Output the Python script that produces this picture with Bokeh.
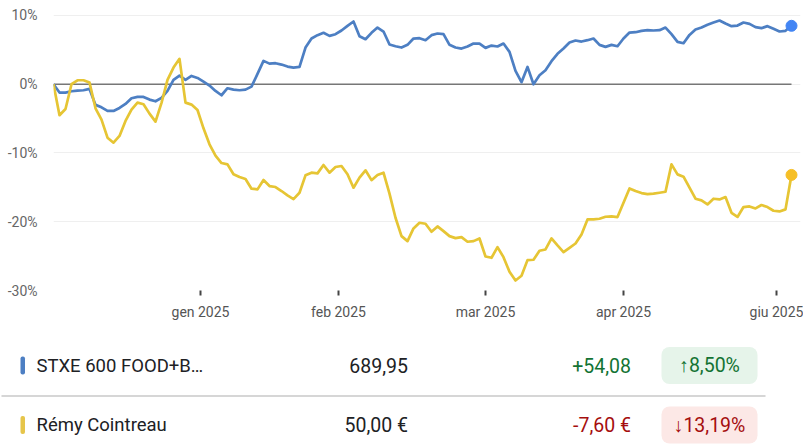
from bokeh.plotting import figure
from bokeh.models import Range1d, FixedTicker, ColumnDataSource
from bokeh.layouts import column
from bokeh.core.properties import value
from bokeh.embed import file_html
from bokeh.resources import INLINE

# ---- data (percent change since start, one value per session) ----
stoxx_food = [0, -1.21, -1.21, -1.02, -0.92, -0.87, -0.68, -3.0, -3.35, -3.88,
              -3.88, -3.45, -2.86, -2.04, -1.84, -1.84, -2.23, -2.48, -1.99, -0.97,
              0.63, 1.26, 0.63, 1.21, 0.92, 0.39, -0.19, -0.97, -1.6, -0.58,
              -0.78, -0.87, -0.78, -0.34, 1.5, 3.4, 3.0, 3.06, 2.86, 2.57,
              2.43, 2.52, 5.34, 6.65, 7.14, 7.48, 7.04, 7.28, 7.82, 8.5,
              9.13, 6.99, 6.55, 7.48, 8.25, 7.67, 5.78, 5.53, 5.34, 5.73,
              6.65, 6.7, 6.41, 7.14, 7.38, 7.28, 5.73, 5.34, 5.19, 5.49,
              5.92, 5.92, 5.29, 5.63, 5.49, 5.92, 4.71, 1.94, 0.3, 2.52,
              0.0, 1.31, 2.04, 3.35, 4.42, 5.19, 6.07, 6.36, 6.21, 6.41,
              6.65, 5.73, 5.44, 5.73, 5.53, 6.65, 7.52, 7.57, 7.77, 7.86,
              7.82, 7.86, 8.25, 7.28, 6.17, 5.97, 7.18, 7.96, 8.25, 8.64,
              8.98, 9.27, 8.83, 8.45, 8.54, 8.98, 8.79, 8.3, 8.16, 8.45,
              8.06, 7.67, 7.77, 8.5]

remy = [0, -4.5, -3.6, 0.0, 0.58, 0.58, 0.24, -3.5, -5.15, -7.77,
        -8.5, -7.52, -5.34, -3.69, -2.67, -2.91, -4.27, -5.44, -2.7, 0.63,
        2.43, 3.7, -2.67, -2.96, -3.74, -6.41, -8.74, -10.39, -11.46, -11.65,
        -13.1, -13.5, -13.79, -15.19, -15.29, -13.93, -14.81, -14.95, -15.53, -16.17,
        -16.7, -15.78, -13.25, -12.86, -12.96, -11.75, -12.86, -12.04, -11.89, -13.1,
        -15.05, -13.59, -12.52, -13.95, -13.2, -12.86, -15.9, -19.42, -22.09, -22.82,
        -20.97, -20.15, -20.29, -21.46, -20.68, -21.36, -22.09, -22.38, -22.23, -22.91,
        -22.82, -22.43, -25.05, -25.24, -23.69, -25.15, -27.28, -28.54, -27.86, -25.58,
        -25.53, -24.22, -24.03, -22.43, -23.45, -24.42, -23.79, -23.16, -21.84, -19.66,
        -19.66, -19.56, -19.27, -19.22, -19.32, -17.23, -15.15, -15.53, -15.83, -15.97,
        -15.92, -15.78, -15.63, -11.65, -13.11, -13.45, -15.05, -16.65, -16.89, -17.48,
        -16.65, -16.75, -16.41, -18.7, -19.3, -17.86, -17.77, -18.06, -17.57, -17.86,
        -18.4, -18.5, -18.2, -13.19]

sessions = list(range(len(stoxx_food)))

x_tick_pos = [24.5, 47.5, 72.0, 95.0, 120.5]
x_tick_labels = ["gen 2025", "feb 2025", "mar 2025", "apr 2025", "giu 2025"]
y_tick_pos = [-30, -20, -10, 0, 10]
y_tick_labels = ["-30%", "-20%", "-10%", "0%", "10%"]

names = ["STXE 600 FOOD+B\u2026", "R\u00e9my Cointreau"]
prices = ["689,95", "50,00 \u20ac"]
changes = ["+54,08", "-7,60 \u20ac"]
pct_changes = ["\u21918,50%", "\u219313,19%"]

BLUE_LINE, BLUE_DOT = "#4d7fc3", "#4285f4"
YEL_LINE, YEL_DOT = "#e6c534", "#f6bf26"
FONT = "Roboto"

# ---- chart ----
p = figure(width=803, height=330, output_backend="svg", toolbar_location=None,
           x_range=Range1d(0, 124.5), y_range=Range1d(-30, 10.727),
           min_border_left=53, min_border_right=3, min_border_top=10,
           min_border_bottom=40)
p.outline_line_color = None
p.background_fill_color = "white"
p.border_fill_color = "white"

p.xaxis.ticker = FixedTicker(ticks=x_tick_pos)
p.xaxis.major_label_overrides = dict(zip(x_tick_pos, x_tick_labels))
p.xaxis.axis_line_color = None
p.xaxis.major_tick_in = 0
p.xaxis.major_tick_out = 5
p.xaxis.major_tick_line_color = "#444444"
p.xaxis.major_tick_line_width = 2
p.xaxis.minor_tick_line_color = None
p.xaxis.major_label_standoff = 8
p.xaxis.major_label_text_font = FONT
p.xaxis.major_label_text_font_size = "14px"
p.xaxis.major_label_text_color = "#555555"

p.yaxis.ticker = FixedTicker(ticks=y_tick_pos)
p.yaxis.major_label_overrides = dict(zip(y_tick_pos, y_tick_labels))
p.yaxis.axis_line_color = None
p.yaxis.major_tick_line_color = None
p.yaxis.minor_tick_line_color = None
p.yaxis.major_label_standoff = 10
p.yaxis.major_label_text_font = FONT
p.yaxis.major_label_text_font_size = "14px"
p.yaxis.major_label_text_color = "#666666"

p.xgrid.visible = False
p.ygrid.grid_line_color = "#efefef"

p.line([sessions[0], sessions[-1]], [0, 0], line_color="#777777", line_width=1.5)
p.line(sessions, stoxx_food, line_color=BLUE_LINE, line_width=2.7, line_join="round")
p.line(sessions, remy, line_color=YEL_LINE, line_width=2.7, line_join="round")
p.scatter([sessions[-1]], [stoxx_food[-1]], size=11, color=BLUE_DOT)
p.scatter([sessions[-1]], [remy[-1]], size=11, color=YEL_DOT)

# ---- table ----
ROW_Y = [35, 94.5]
t = figure(width=803, height=116, output_backend="svg", toolbar_location=None,
           x_range=Range1d(0, 803), y_range=Range1d(116, 0),
           x_axis_location=None, y_axis_location=None, min_border=0)
t.outline_line_color = None
t.xgrid.visible = False
t.ygrid.visible = False
t.background_fill_color = "white"

for fig in (p, t):
    if "frame_align" in fig.properties():
        fig.frame_align = False

src = ColumnDataSource(dict(
    y=ROW_Y, name=names, price=prices, change=changes, pct=pct_changes,
    swatch=[BLUE_LINE, "#e6c54a"],
    fg=["#137333", "#a50e0e"], bg=["#e6f4ea", "#fce8e6"],
    top=[y - 9 for y in ROW_Y], bot=[y + 9 for y in ROW_Y],
    btop=[y - 18.5 for y in ROW_Y], bbot=[y + 18.5 for y in ROW_Y],
))

# divider between the two rows
div_src = ColumnDataSource(dict(x=[1, 765], y=[65.5, 65.5]))
t.line(x="x", y="y", source=div_src, line_color="#c8c8c8", line_width=1.3)
t.quad(left=20, right=24.5, top="top", bottom="bot", fill_color="swatch",
       line_color=None, border_radius=2, source=src)
t.quad(left=661, right=757, top="btop", bottom="bbot", fill_color="bg",
       line_color=None, border_radius=8, source=src)
t.text(x=36, y="y", text="name", source=src, text_font=value(FONT),
       text_font_size="18.5px", text_color="#202124", text_baseline="middle")
t.text(x=407.5, y="y", text="price", source=src, text_font=value(FONT),
       text_font_size="19.5px", text_color="#202124", text_baseline="middle",
       text_align="right")
t.text(x=630.5, y="y", text="change", source=src, text_font=value(FONT),
       text_font_size="19.5px", text_color="fg", text_baseline="middle",
       text_align="right")
t.text(x=709, y="y", text="pct", source=src, text_font=value(FONT),
       text_font_size="19.5px", text_color="fg", text_baseline="middle",
       text_align="center")

layout = column(p, t)
open("out.html", "w").write(file_html(layout, INLINE))
